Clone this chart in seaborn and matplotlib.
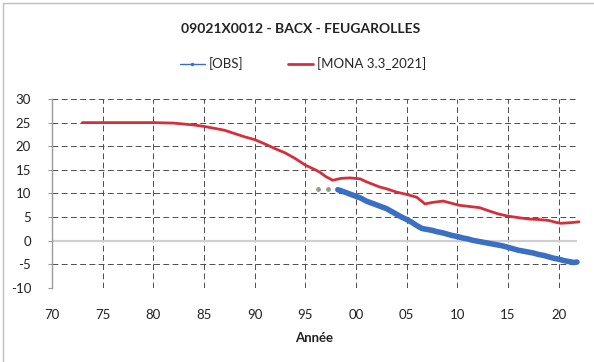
import numpy as np
import pandas as pd
import matplotlib
matplotlib.use("Agg")
import matplotlib.pyplot as plt
from matplotlib.lines import Line2D
from matplotlib.patches import Rectangle
import seaborn as sns

# ---------------- data ----------------
mona_years = [1973, 1975, 1980, 1982, 1984, 1985, 1987, 1988, 1989, 1990,
              1991, 1992, 1993, 1994, 1995, 1996, 1996.5, 1997, 1997.7, 1998.5,
              1999.4, 2000.4, 2001, 2002.3, 2003, 2004, 2005, 2006, 2006.8, 2007.5,
              2008.6, 2009.3, 2010.2, 2011, 2012.2, 2013, 2014, 2015, 2016, 2017,
              2018, 2019, 2019.7, 2020.2, 2021, 2022]
mona_vals = [25.0, 25.0, 25.0, 24.9, 24.5, 24.2, 23.4, 22.7, 22.0, 21.4,
             20.5, 19.5, 18.6, 17.4, 16.0, 15.0, 14.4, 13.6, 12.8, 13.2,
             13.3, 13.1, 12.5, 11.4, 11.0, 10.3, 9.8, 9.2, 7.8, 8.1,
             8.4, 8.0, 7.5, 7.3, 7.0, 6.4, 5.7, 5.2, 4.9, 4.6,
             4.5, 4.3, 3.9, 3.7, 3.8, 4.0]

obs_years = [1998.2, 1998.5, 1999, 1999.5, 2000, 2000.5, 2001, 2001.5, 2002, 2002.5,
             2003, 2003.5, 2004, 2004.5, 2005, 2005.5, 2006, 2006.5, 2007, 2007.5,
             2008, 2008.5, 2009, 2009.5, 2010, 2010.5, 2011, 2011.5, 2012, 2012.5,
             2013, 2013.5, 2014, 2014.5, 2015, 2015.5, 2016, 2016.5, 2017, 2017.5,
             2018, 2018.5, 2019, 2019.5, 2020, 2020.5, 2021, 2021.5, 2021.8]
obs_vals = [10.8, 10.6, 10.2, 9.8, 9.4, 9.0, 8.4, 8.0, 7.6, 7.2,
            6.8, 6.2, 5.6, 5.0, 4.5, 3.9, 3.2, 2.6, 2.4, 2.2,
            1.9, 1.7, 1.4, 1.1, 0.9, 0.6, 0.4, 0.1, -0.1, -0.3,
            -0.5, -0.7, -0.9, -1.1, -1.4, -1.7, -2.0, -2.2, -2.4, -2.6,
            -2.9, -3.1, -3.4, -3.7, -3.9, -4.2, -4.4, -4.6, -4.5]

early_years = [1996.2, 1997.2]
early_vals = [11.0, 11.0]

x_ticks = [1970, 1975, 1980, 1985, 1990, 1995, 2000, 2005, 2010, 2015, 2020]
x_tick_labels = ["70", "75", "80", "85", "90", "95", "00", "05", "10", "15", "20"]
y_ticks = [-10, -5, 0, 5, 10, 15, 20, 25, 30]

title = "09021X0012 - BACX - FEUGAROLLES"
series_labels = ["[OBS]", "[MONA 3.3_2021]"]
x_label = "Année"

# ---------------- style ----------------
sns.set_theme(style="white")
plt.rcParams["font.family"] = ["Lato", "DejaVu Sans"]

BLUE = "#3a6fc4"
RED = "#d3303c"
GRID = "#4d4d4d"

fig = plt.figure(figsize=(5.94, 3.62), dpi=100)
ax = fig.add_axes([52 / 594, 1 - 288 / 362, (577 - 52) / 594, (288 - 99) / 362])

mona_df = pd.DataFrame({"year": mona_years, "value": mona_vals})
obs_df = pd.DataFrame({"year": obs_years, "value": obs_vals})

sns.lineplot(data=mona_df, x="year", y="value", ax=ax, color=RED, lw=2.0,
             zorder=4, clip_on=False)
sns.lineplot(data=obs_df, x="year", y="value", ax=ax, color=BLUE, lw=4.0,
             zorder=5, clip_on=False, solid_capstyle="round")
ax.scatter(early_years, early_vals, s=6, color="#8f9c8f", zorder=5)

ax.set_xlim(1970, 2021.8)
ax.set_ylim(-10, 30)
ax.set_xticks(x_ticks)
ax.set_xticklabels(x_tick_labels)
ax.set_yticks(y_ticks)
ax.set_yticklabels([str(v) for v in y_ticks])

ax.tick_params(axis="y", length=3, width=0.8, color="#999999", pad=12,
               labelsize=9.5, labelcolor="#222222", left=True)
ax.tick_params(axis="x", length=0, pad=15, labelsize=9.5, labelcolor="#222222")

ax.grid(True, color=GRID, lw=0.7, linestyle=(0, (6, 3.5)))
ax.set_axisbelow(True)
for v, gl in zip(y_ticks, ax.yaxis.get_gridlines()):
    if v == 0:
        gl.set_visible(False)
for v, gl in zip(x_ticks, ax.xaxis.get_gridlines()):
    if v == 1970:
        gl.set_visible(False)
ax.axhline(0, color="#cfcfcf", lw=1.6, zorder=1)

for s in ["top", "right", "bottom"]:
    ax.spines[s].set_visible(False)
ax.spines["left"].set_color("#9a9a9a")
ax.spines["left"].set_linewidth(1.0)

ax.set_xlabel(x_label, fontsize=9.5, fontweight="bold", labelpad=8, color="#222222")
ax.set_ylabel("")

fig.text(301 / 594, 1 - 29 / 362, title, ha="center", va="center",
         fontsize=10, fontweight="bold", color="#222222")

handles = [
    Line2D([], [], color=BLUE, lw=1.0, marker=".", markersize=3),
    Line2D([], [], color=RED, lw=2.0),
]
fig.legend(handles, series_labels, loc="center", bbox_to_anchor=(303 / 594, 1 - 64 / 362),
           ncol=2, frameon=False, fontsize=9.5, handlelength=1.9, columnspacing=3.4,
           handletextpad=0.3)

fig.add_artist(Rectangle((3 / 594, -0.2), 1.5, 1.2 - 3 / 362,
                         transform=fig.transFigure, fill=False,
                         edgecolor="#bdbdbd", lw=1.0))

fig.savefig("out.png", dpi=100, facecolor="white")
